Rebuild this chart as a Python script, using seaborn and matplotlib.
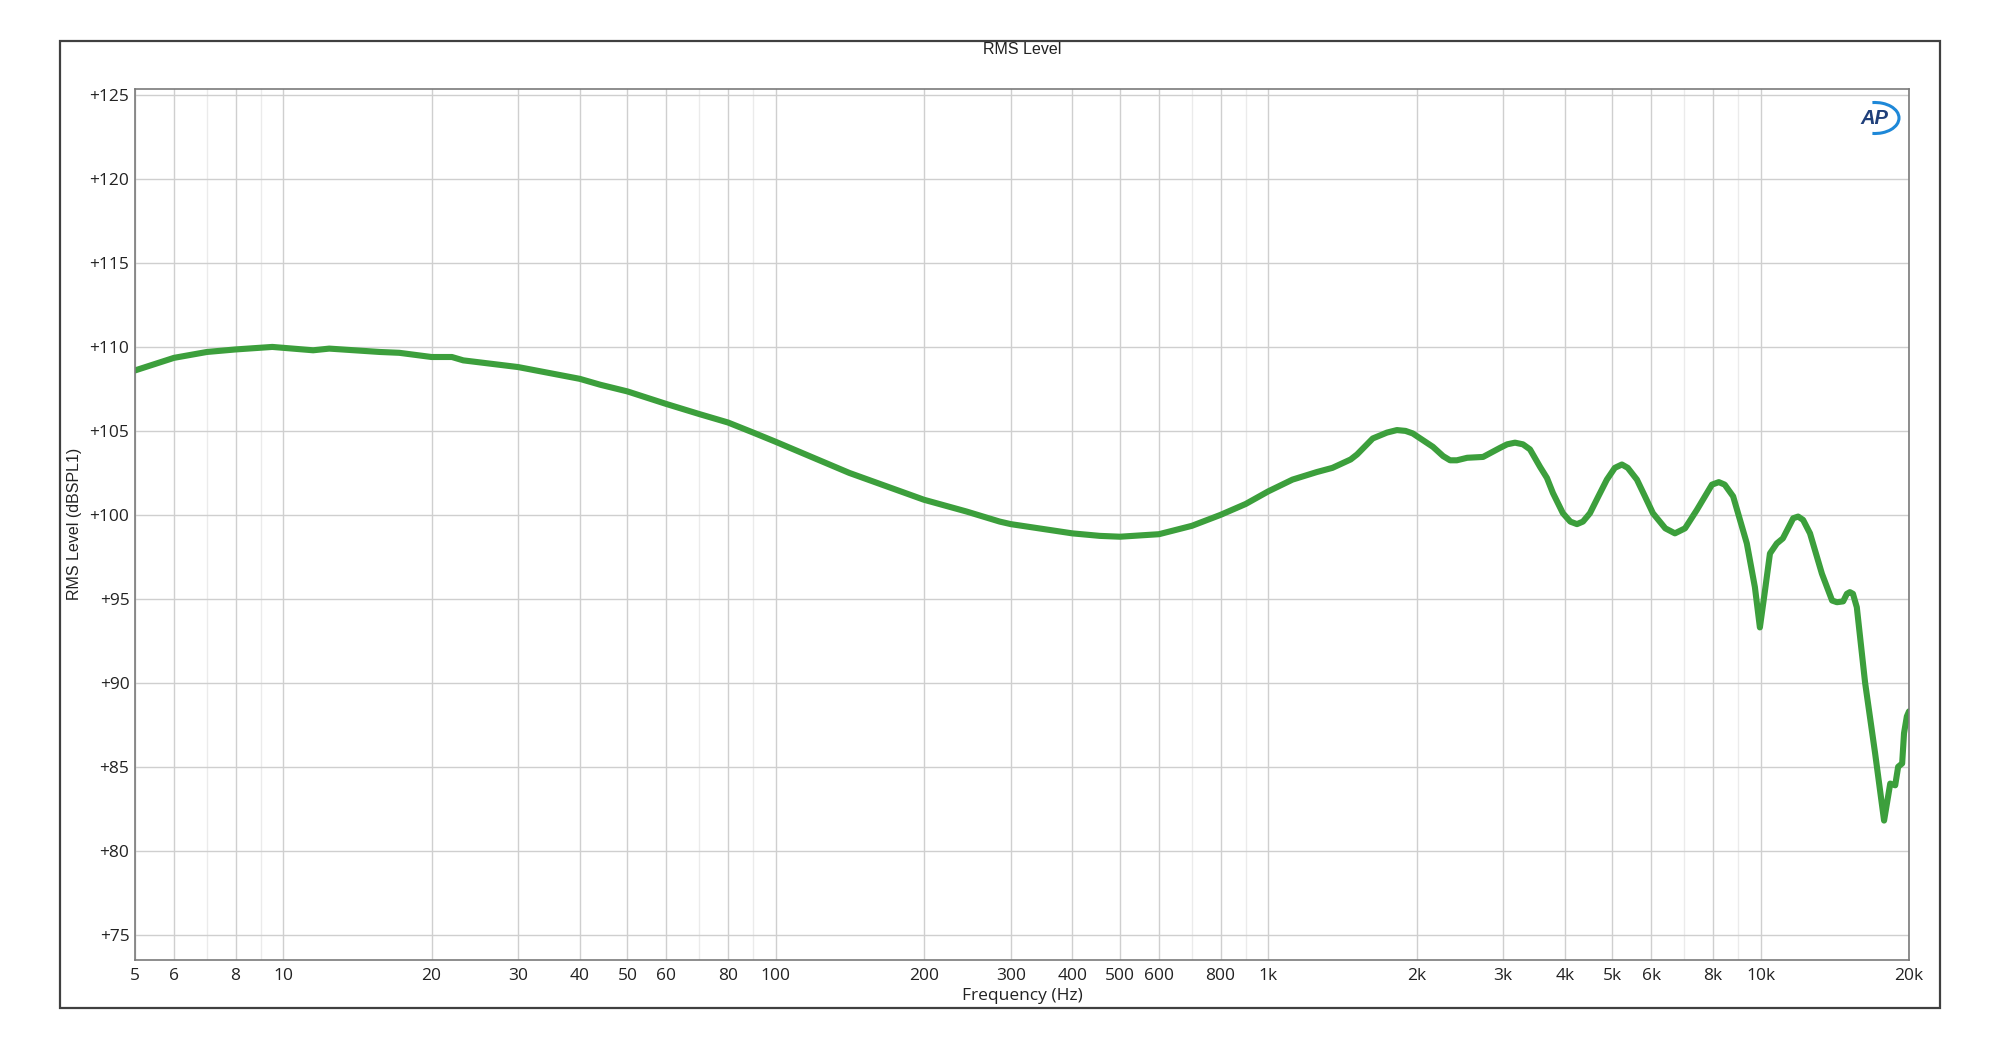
import matplotlib
matplotlib.use("Agg")
import matplotlib.pyplot as plt
from matplotlib.patches import Rectangle, Arc
import seaborn as sns

# frequency response (Hz, dB SPL)
freqs = [5, 6, 7, 8, 9.5, 11.5, 12.4, 15.7, 17.2, 20, 22, 23.2, 30, 40, 44, 50, 60,
         70, 80, 90, 100, 141, 200, 244, 285, 300, 400, 455, 500, 600, 700, 800,
         900, 1000, 1120, 1255, 1350, 1470, 1515, 1630, 1742, 1825, 1900, 1965,
         2160, 2265, 2340, 2415, 2535, 2730, 2960, 3055, 3170, 3290, 3400, 3565,
         3680, 3785, 3965, 4105, 4235, 4355, 4500, 4680, 4870, 5055, 5225, 5370,
         5605, 5820, 6040, 6400, 6695, 7020, 7420, 7960, 8220, 8450, 8790, 9370,
         9730, 9960, 10190, 10440, 10780, 11090, 11640, 11910, 12190, 12590,
         13310, 13960, 14280, 14700, 14960, 15170, 15390, 15670, 16290, 17070,
         17800, 18320, 18750, 19010, 19370, 19540, 19800, 20000]
levels = [108.6, 109.35, 109.7, 109.85, 110.0, 109.8, 109.9, 109.7, 109.65, 109.4,
          109.4, 109.2, 108.8, 108.1, 107.75, 107.35, 106.6, 106.0, 105.5, 104.9,
          104.35, 102.5, 100.9, 100.2, 99.6, 99.45, 98.9, 98.75, 98.7, 98.85, 99.35,
          100.0, 100.65, 101.4, 102.1, 102.55, 102.8, 103.3, 103.6, 104.55, 104.9,
          105.05, 105.0, 104.85, 104.05, 103.5, 103.25, 103.25, 103.4, 103.45,
          104.0, 104.2, 104.3, 104.2, 103.9, 102.85, 102.2, 101.3, 100.1, 99.6,
          99.45, 99.6, 100.1, 101.1, 102.1, 102.8, 103.0, 102.8, 102.1, 101.1,
          100.1, 99.2, 98.9, 99.2, 100.3, 101.8, 101.95, 101.8, 101.1, 98.3, 95.7,
          93.3, 95.4, 97.7, 98.3, 98.6, 99.8, 99.9, 99.7, 98.9, 96.5, 94.9, 94.8,
          94.85, 95.3, 95.4, 95.3, 94.5, 90.0, 85.8, 81.8, 84.0, 83.9, 85.0, 85.2,
          87.0, 88.0, 88.3]

x_ticks = [5, 6, 8, 10, 20, 30, 40, 50, 60, 80, 100, 200, 300, 400, 500, 600, 800,
           1000, 2000, 3000, 4000, 5000, 6000, 8000, 10000, 20000]
x_labels = ["5", "6", "8", "10", "20", "30", "40", "50", "60", "80", "100", "200",
            "300", "400", "500", "600", "800", "1k", "2k", "3k", "4k", "5k", "6k",
            "8k", "10k", "20k"]
x_minor = [7, 9, 70, 90, 700, 900, 7000, 9000]
y_ticks = [75, 80, 85, 90, 95, 100, 105, 110, 115, 120, 125]

sns.set_theme(style="white")
plt.rcParams["font.family"] = ["Open Sans", "DejaVu Sans"]

fig = plt.figure(figsize=(20, 10.44), dpi=100)
ax = fig.add_axes([0.0675, 0.0805, 0.887, 0.8343])
ax.set_xscale("log")

sns.lineplot(x=freqs, y=levels, ax=ax, color="#3c9f3c", linewidth=4.4,
             solid_joinstyle="round", solid_capstyle="round")

ax.set_xlim(5, 20000)
ax.set_ylim(73.5, 125.36)
ax.set_xticks(x_ticks)
ax.set_xticklabels(x_labels)
ax.set_xticks(x_minor, minor=True)
ax.set_xticklabels([], minor=True)
ax.set_yticks(y_ticks)
ax.set_yticklabels([f"+{v}" for v in y_ticks])
ax.tick_params(axis="both", which="both", length=0, labelsize=12.5, colors="#222222")
ax.tick_params(axis="x", pad=6)
ax.tick_params(axis="y", pad=4)

ax.grid(which="major", color="#cfcfcf", linewidth=1.0)
ax.grid(which="minor", axis="x", color="#ebebeb", linewidth=1.0)
ax.set_axisbelow(True)
for sp in ax.spines.values():
    sp.set_color("#7a7a7a")
    sp.set_linewidth(1.2)
ax.set_xlabel("")
ax.set_ylabel("")

# texts
fig.text(0.511, 1 - 50 / 1044, "RMS Level", ha="center", va="center",
         fontsize=11.5, family="Liberation Sans", color="#222222")
fig.text(0.511, 1 - 996 / 1044, "Frequency (Hz)", ha="center", va="center",
         fontsize=12.5, color="#222222")
fig.text(74 / 2000, 1 - 524 / 1044, "RMS Level (dBSPL1)", ha="center", va="center",
         rotation=90, fontsize=11.5, family="Liberation Sans", color="#222222")

# outer frame
fig.add_artist(Rectangle((0.03, 1 - 1008 / 1044), 0.94, 967 / 1044, fill=False,
                         edgecolor="#404040", linewidth=1.6, transform=fig.transFigure))

# AP badge
fig.text(1874 / 2000, 1 - 119 / 1044, "AP", ha="center", va="center", fontsize=14.5,
         fontweight="bold", fontstyle="italic", family="Liberation Sans",
         color="#1f3f7a")
fig.add_artist(Arc((1875 / 2000, 1 - 118 / 1044), 48 / 2000, 31 / 1044,
                   theta1=-95, theta2=95, color="#1e88d8", linewidth=2.2,
                   transform=fig.transFigure))

fig.savefig("out.png", dpi=100, facecolor="white")
